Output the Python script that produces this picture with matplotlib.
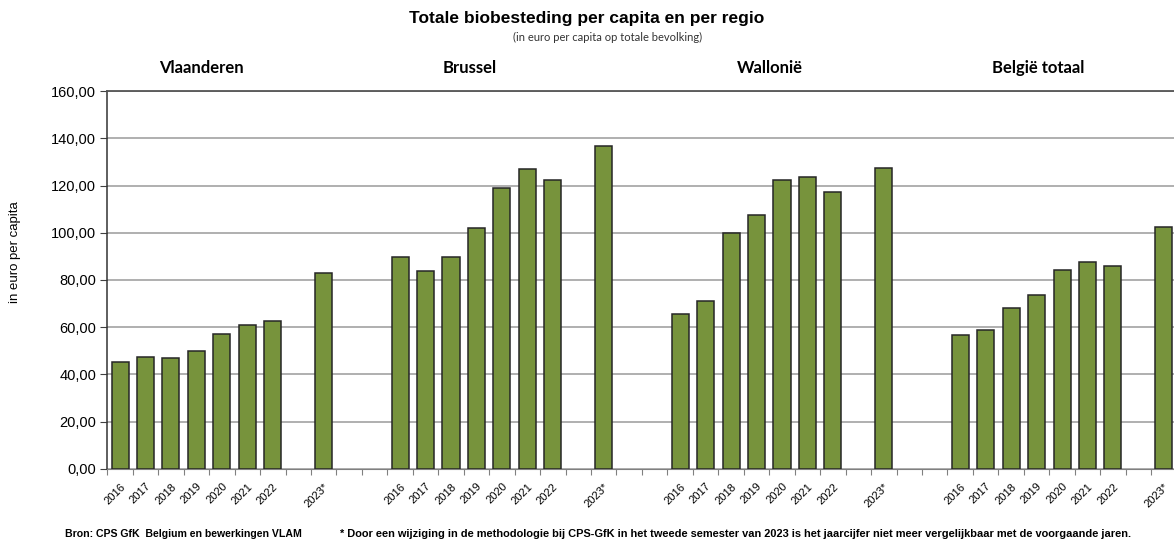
import matplotlib
matplotlib.use("Agg")
import matplotlib.pyplot as plt
import numpy as np

# ---- data ----
regions = ["Vlaanderen", "Brussel", "Wallonië", "België totaal"]
years = ["2016", "2017", "2018", "2019", "2020", "2021", "2022", "2023*"]
vlaanderen = [45.3, 47.3, 47.0, 49.9, 57.0, 61.1, 62.4, 83.0]
brussel = [89.9, 83.8, 89.6, 101.9, 118.9, 127.2, 122.3, 136.8]
wallonie = [65.4, 71.1, 99.9, 107.4, 122.4, 123.8, 117.1, 127.4]
belgie = [56.5, 58.7, 68.3, 73.7, 84.1, 87.6, 85.7, 102.4]
series = [vlaanderen, brussel, wallonie, belgie]
yticks = [0, 20, 40, 60, 80, 100, 120, 140, 160]

title = "Totale biobesteding per capita en per regio"
subtitle = "(in euro per capita op totale bevolking)"
ylabel = "in euro per capita"
source = "Bron: CPS GfK  Belgium en bewerkingen VLAM"
note = ("* Door een wijziging in de methodologie bij CPS-GfK in het tweede semester "
        "van 2023 is het jaarcijfer niet meer vergelijkbaar met de voorgaande jaren.")

# ---- layout of category slots ----
slots_per_region = 11
year_offsets = [0, 1, 2, 3, 4, 5, 6, 8]
n_slots = 42

fig = plt.figure(figsize=(11.74, 5.44), dpi=100)
ax = fig.add_axes([107.3 / 1174, (544 - 468.8) / 544, 1069.3 / 1174, 377.7 / 544])

bar_color = "#77933C"
xs, vals, labels = [], [], []
for r, vals_r in enumerate(series):
    for off, yr, v in zip(year_offsets, years, vals_r):
        xs.append(r * slots_per_region + off)
        vals.append(v)
        labels.append(yr)

ax.bar(xs, vals, width=0.67, color=bar_color, edgecolor="#262626", linewidth=1.1, zorder=3)

ax.set_xlim(-0.5, n_slots - 0.5)
ax.set_ylim(0, 160)
ax.set_yticks(yticks)
ax.set_yticklabels([f"{t:.2f}".replace(".", ",") for t in yticks],
                   fontsize=10.5, family="Liberation Sans")
ax.yaxis.grid(True, color="#9a9a9a", linewidth=1.1, zorder=0)
ax.set_axisbelow(True)

# x ticks at slot boundaries, labels at centers
ax.set_xticks(np.arange(-0.5, n_slots, 1.0))
ax.set_xticklabels([])
ax.set_xticks(xs, minor=True)
ax.set_xticklabels(labels, minor=True, rotation=45, ha="right",
                   rotation_mode="anchor", fontsize=8, family="Liberation Sans")
ax.tick_params(axis="x", which="minor", length=0, pad=9)
ax.tick_params(axis="x", which="major", length=4, color="#808080", direction="out")
ax.tick_params(axis="y", length=5, color="#404040", pad=3)

ax.spines["left"].set_color("#333333")
ax.spines["left"].set_linewidth(1.1)
ax.spines["bottom"].set_color("#808080")
ax.spines["top"].set_color("#555555")
ax.spines["top"].set_linewidth(1.3)
ax.spines["right"].set_visible(False)

# y axis title
fig.text(15 / 1174, 1 - 252 / 544, ylabel, rotation=90, ha="center", va="center",
         fontsize=9.5, family="Liberation Sans")

# titles
fig.text(587 / 1174, 1 - 18 / 544, title, ha="center", va="center",
         fontsize=12.5, fontweight="bold", family="Liberation Sans")
fig.text(608 / 1174, 1 - 37 / 544, subtitle, ha="center", va="center",
         fontsize=8, family="Lato", color="#333333")

header_x = [201, 470, 770, 1038]
for name, hx in zip(regions, header_x):
    fig.text(hx / 1174, 1 - 68 / 544, name, ha="center", va="center",
             fontsize=12, fontweight="bold", family="Lato")

fig.text(65 / 1174, 1 - 534 / 544, source, ha="left", va="center",
         fontsize=7.6, fontweight="bold", family="Liberation Sans")
fig.text(340 / 1174, 1 - 534 / 544, note, ha="left", va="center",
         fontsize=7.9, fontweight="bold", family="Liberation Sans")

fig.savefig("out.png", dpi=100)
